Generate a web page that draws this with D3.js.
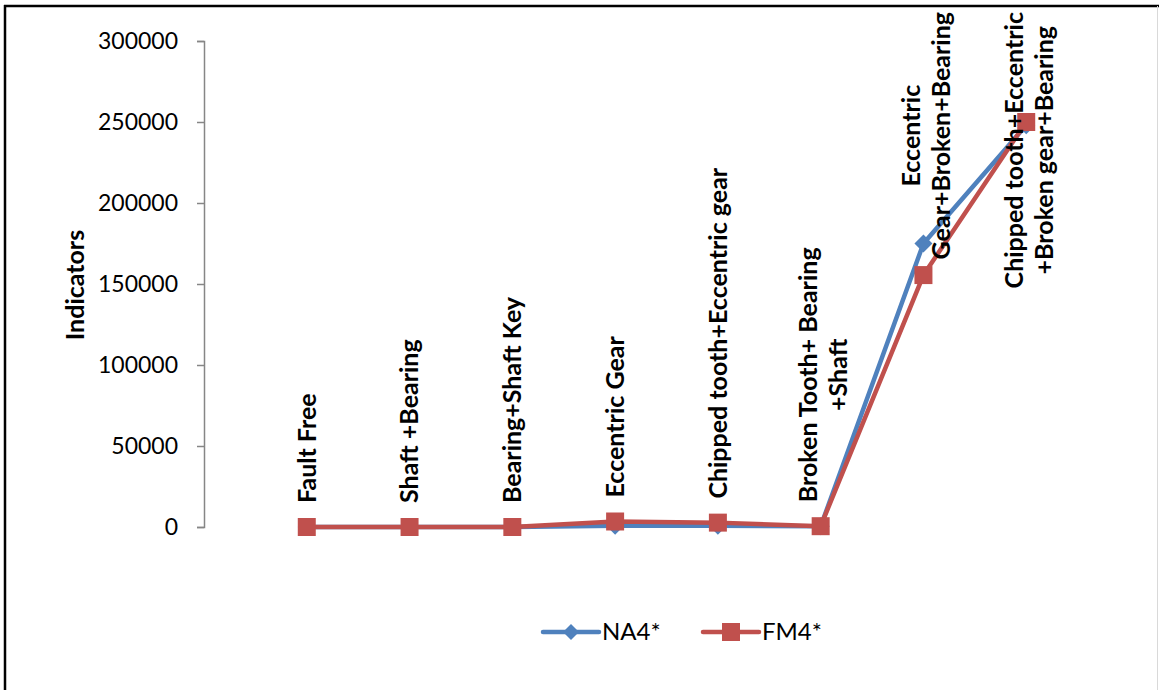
<!DOCTYPE html>
<html>
<head>
<meta charset="utf-8">
<script src="https://cdn.jsdelivr.net/npm/d3@7"></script>
<style>
  html, body { margin: 0; padding: 0; background: #fff; }
  svg { display: block; }
  text { font-family: Lato, "Open Sans", "Liberation Sans", sans-serif; fill: #000; }
</style>
</head>
<body>
<svg id="chart" width="1159" height="690"></svg>
<script>
// ---- data ----
const categories = [
  "Fault Free",
  "Shaft +Bearing",
  "Bearing+Shaft Key",
  "Eccentric Gear",
  "Chipped tooth+Eccentric gear",
  "Broken Tooth+ Bearing\n+Shaft",
  "Eccentric\nGear+Broken+Bearing",
  "Chipped tooth+Eccentric\n+Broken gear+Bearing"
];
const seriesNames = ["NA4*", "FM4*"];
const na4Values = [0, 0, 0, 800, 800, 400, 175000, 248000];
const fm4Values = [0, 0, 0, 3400, 2700, 500, 155500, 250000];
const yTicks = [0, 50000, 100000, 150000, 200000, 250000, 300000];
const yTitle = "Indicators";

// ---- layout ----
const W = 1159, H = 690;
const plot = { left: 204, right: 1129, top: 41, bottom: 527 };
const colors = { "NA4*": "#4F81BD", "FM4*": "#C0504D" };

const svg = d3.select("#chart");

// outer frame
svg.append("line").attr("x1", 5).attr("x2", 5).attr("y1", 5).attr("y2", H)
  .attr("stroke", "#000").attr("stroke-width", 2.5);
svg.append("line").attr("x1", 4).attr("x2", W).attr("y1", 6).attr("y2", 6)
  .attr("stroke", "#000").attr("stroke-width", 2.5);
svg.append("line").attr("x1", W - 1.5).attr("x2", W - 1.5).attr("y1", 6).attr("y2", H)
  .attr("stroke", "#d9d9d9").attr("stroke-width", 1);

const x = d3.scalePoint().domain(d3.range(categories.length))
  .range([plot.left, plot.right]).padding(1);
const y = d3.scaleLinear().domain([0, 300000]).range([plot.bottom, plot.top]);

// y axis
const yAxis = d3.axisLeft(y).tickValues(yTicks).tickFormat(d3.format("d"))
  .tickSize(7).tickPadding(19);
const gy = svg.append("g").attr("transform", `translate(${plot.left},0)`).call(yAxis);
gy.select(".domain").attr("stroke", "#868686").attr("stroke-width", 1.5);
gy.selectAll(".tick line").attr("stroke", "#868686").attr("stroke-width", 1.5);
gy.selectAll(".tick text").attr("font-size", 23).attr("font-family", "Lato, 'Open Sans', sans-serif").attr("fill", "#000");

// y title
svg.append("text")
  .attr("transform", `translate(75,285) rotate(-90)`)
  .attr("text-anchor", "middle").attr("dy", "0.35em")
  .attr("font-size", 25).attr("font-weight", "bold")
  .text(yTitle);

// series
const series = [
  { name: seriesNames[0], values: na4Values, marker: "diamond" },
  { name: seriesNames[1], values: fm4Values, marker: "square" }
];
const line = d3.line().x((d, i) => x(i)).y(d => y(d));
const diamondPath = r => `M0,${-r}L${r},0L0,${r}L${-r},0Z`;

series.forEach(s => {
  const g = svg.append("g");
  g.append("path").datum(s.values)
    .attr("d", line).attr("fill", "none")
    .attr("stroke", colors[s.name]).attr("stroke-width", 4.5)
    .attr("stroke-linejoin", "round");
  g.selectAll("path.m").data(s.values).enter().append("path")
    .attr("class", "m")
    .attr("transform", (d, i) => `translate(${x(i)},${y(d)})`)
    .attr("d", s.marker === "diamond" ? diamondPath(9) : "M-9,-9H9V9H-9Z")
    .attr("fill", colors[s.name]);
});

// data labels (category names, rotated)
const labelSize = 25;
categories.forEach((cat, i) => {
  const lines = cat.split("\n");
  const g = svg.append("g");
  const texts = lines.map(t => g.append("text")
    .attr("font-size", labelSize).attr("font-weight", "bold")
    .attr("text-anchor", "middle").attr("dy", "0.35em").text(t));
  const L = d3.max(texts, t => t.node().getComputedTextLength());
  let bottom = y(fm4Values[i]) - 24;
  let top = bottom - L;
  if (top < 12) { top = 12; bottom = top + L; }
  const c = (top + bottom) / 2;
  texts.forEach((t, j) => {
    const dx = (j - (lines.length - 1) / 2) * 30 + (lines.length > 1 ? 3 : 0);
    t.attr("transform", `translate(${x(i) + dx},${c}) rotate(-90)`);
  });
});

// legend
const legend = [
  { name: seriesNames[0], x0: 543, marker: "diamond" },
  { name: seriesNames[1], x0: 703, marker: "square" }
];
const ly = 632;
legend.forEach(l => {
  const g = svg.append("g");
  g.append("line").attr("x1", l.x0).attr("x2", l.x0 + 56).attr("y1", ly).attr("y2", ly)
    .attr("stroke", colors[l.name]).attr("stroke-width", 4.5).attr("stroke-linecap", "round");
  g.append("path").attr("transform", `translate(${l.x0 + 28},${ly})`)
    .attr("d", l.marker === "diamond" ? diamondPath(8) : "M-9,-9H9V9H-9Z")
    .attr("fill", colors[l.name]);
  g.append("text").attr("x", l.x0 + 59).attr("y", ly).attr("dy", "0.35em")
    .attr("font-size", 24).text(l.name);
});
</script>
</body>
</html>
